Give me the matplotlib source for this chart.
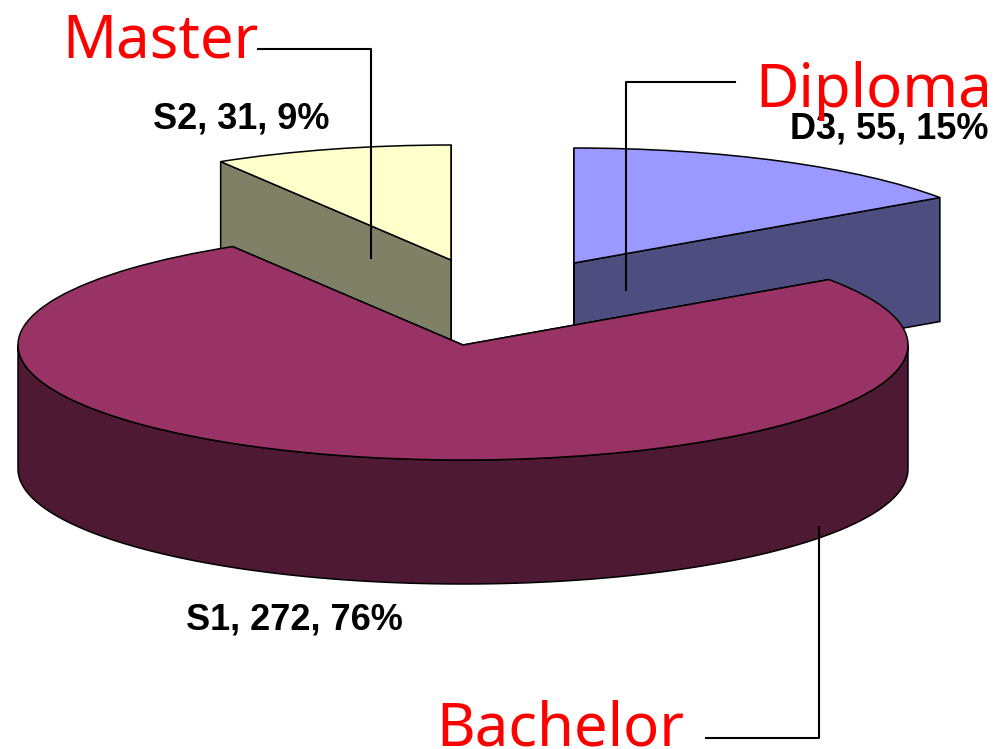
import numpy as np
import matplotlib
matplotlib.use('Agg')
import matplotlib.pyplot as plt
from matplotlib.patches import Wedge, Polygon
from matplotlib.transforms import Affine2D

# slices, clockwise from 12 o'clock
categories = ['D3', 'S1', 'S2']
values = [55, 272, 31]
percents = [15, 76, 9]
top_colors = ['#9999FF', '#993366', '#FFFFCC']
side_colors = ['#4D4D80', '#4D1933', '#808066']
# exploded centres in image pixels
centers = [(574, 263), (463, 345), (451, 260)]

RX, RY, DEPTH = 445, 115, 124

fig = plt.figure(figsize=(9.95, 7.49), dpi=100)
ax = fig.add_axes([0, 0, 1, 1])
ax.set_xlim(0, 995)
ax.set_ylim(749, 0)
ax.axis('off')


def arc(c, a0, a1):
    t = np.radians(np.linspace(a0, a1, 120))
    return np.column_stack([c[0] + RX * np.cos(t), c[1] - RY * np.sin(t)])


def draw_slice(c, a0, a1, top, side, z):
    # cut faces first, then rim, then the top
    for a in (a0, a1):
        p = arc(c, a, a)[0]
        face = [c, p, (p[0], p[1] + DEPTH), (c[0], c[1] + DEPTH)]
        ax.add_patch(Polygon(face, fc=side, ec='black', lw=1.1, zorder=z))
    lo, hi = max(a0, 180), min(a1, 360)
    if hi > lo:
        rim = arc(c, lo, hi)
        low = rim[::-1] + [0, DEPTH]
        ax.add_patch(Polygon(np.vstack([rim, low]), fc=side, ec='black', lw=1.1, zorder=z + 0.1))
    # image y runs downward, so flip the unit circle
    tr = Affine2D().scale(RX, -RY).translate(*c) + ax.transData
    ax.add_patch(Wedge((0, 0), 1, a0, a1, fc=top, ec='black', lw=1.1, transform=tr, zorder=z + 0.2))


total = sum(values)
start = 90.0
spans = []
for v in values:
    end = start - v / total * 360
    spans.append((end, start))
    start = end

# back slices first, big one sits on top
draw_slice(centers[0], spans[0][0], spans[0][1], top_colors[0], side_colors[0], 1)
draw_slice(centers[2], spans[2][0] + 360, spans[2][1] + 360, top_colors[2], side_colors[2], 2)
draw_slice(centers[1], spans[1][0] + 360, spans[1][1] + 360, top_colors[1], side_colors[1], 3)

labels = [f'{c}, {v}, {p}%' for c, v, p in zip(categories, values, percents)]
label_pos = [(889, 129), (294, 620), (241, 119)]
for s, (x, y) in zip(labels, label_pos):
    ax.text(x, y, s, ha='center', va='center', fontsize=26, fontweight='bold',
            family='Liberation Sans', color='black', zorder=6)

# red annotations with elbow leaders
names = ['Master', 'Diploma', 'Bachelor']
name_pos = [(62, 58), (755, 107), (436, 746)]
leaders = [
    ([258, 371, 371], [49, 49, 258]),
    ([735, 626, 626], [82, 82, 290]),
    ([706, 819, 819], [738, 738, 527]),
]
for s, (x, y), (lx, ly) in zip(names, name_pos, leaders):
    ax.plot(lx, ly, color='black', lw=1.5, zorder=5)
    ax.text(x, y, s, ha='left', va='baseline', fontsize=43, color='#FF0000',
            family='Noto Sans', zorder=7)

fig.savefig('out.png', dpi=100)
